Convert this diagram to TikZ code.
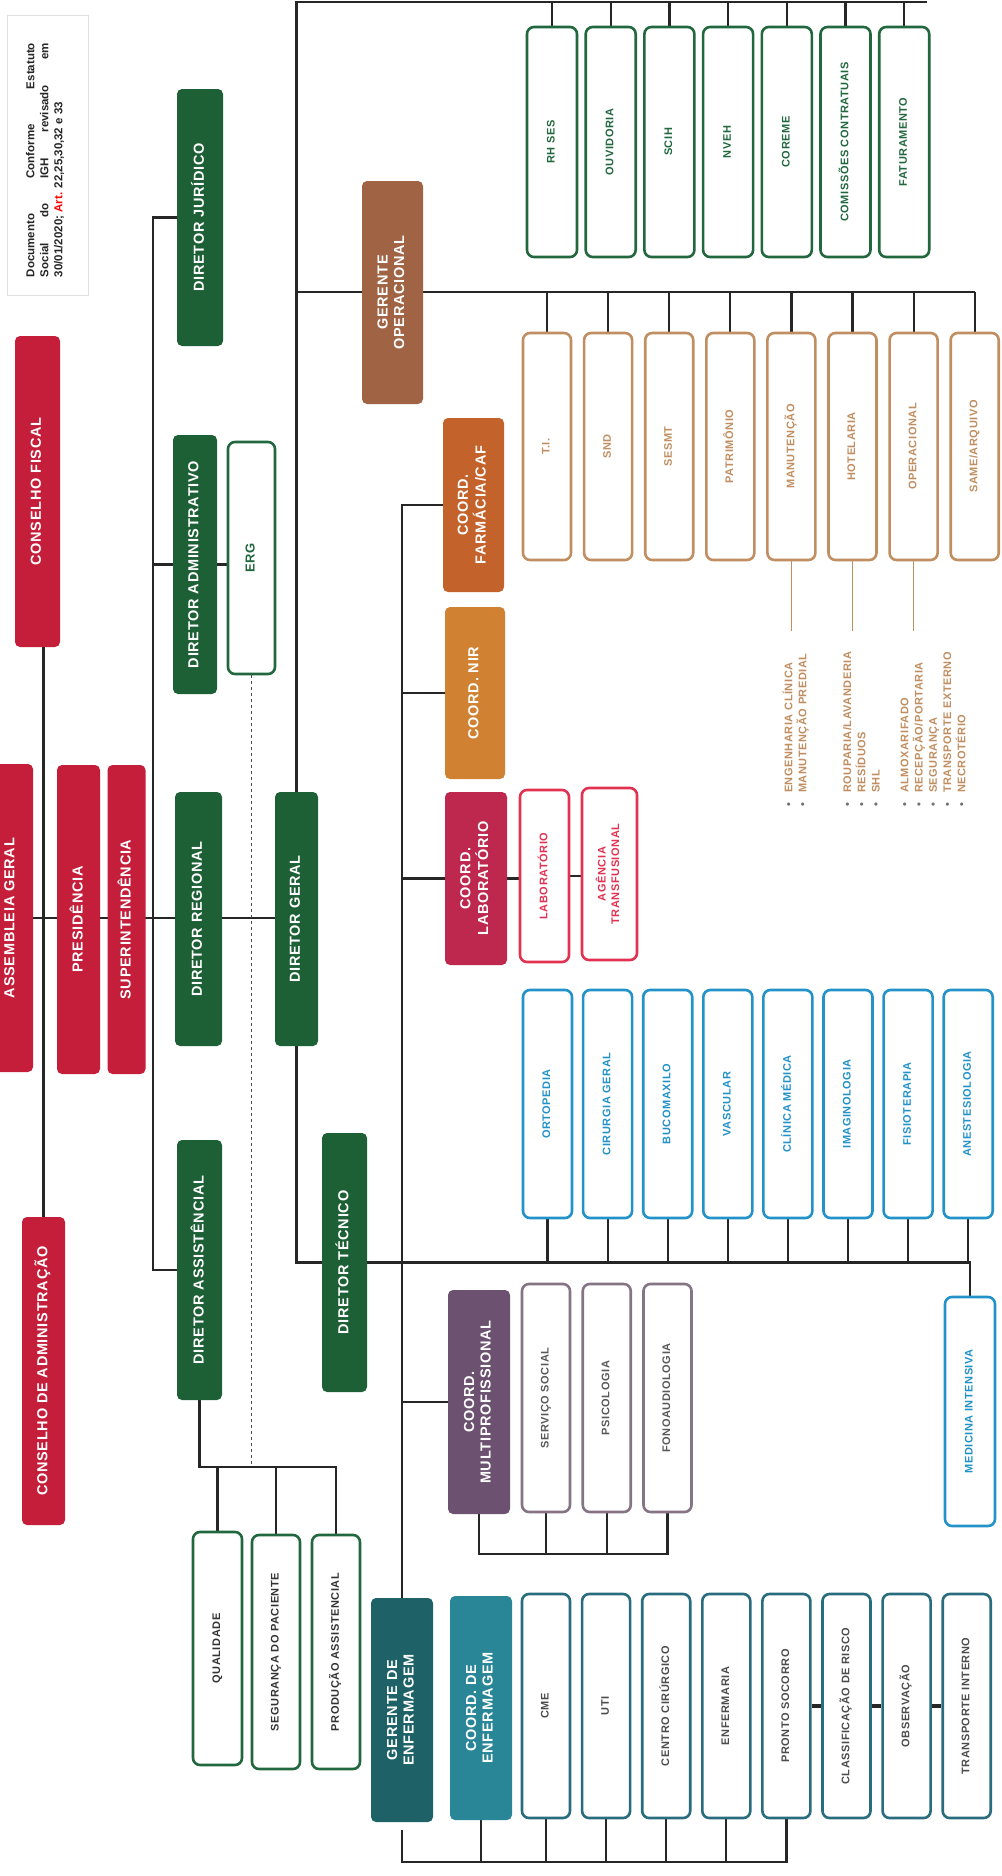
\documentclass[tikz,border=0pt]{standalone}
\usepackage{fontspec}
\setmainfont{Liberation Sans}
\newfontfamily\rotfont[LetterSpace=5]{Liberation Sans}
\usetikzlibrary{backgrounds}

\definecolor{redbox}{RGB}{196,30,58}
\definecolor{dirgreen}{RGB}{30,96,54}
\definecolor{outgreen}{RGB}{34,104,62}
\definecolor{opbrown}{RGB}{160,100,68}
\definecolor{farmorange}{RGB}{196,98,44}
\definecolor{nirorange}{RGB}{208,130,50}
\definecolor{labred}{RGB}{190,40,78}
\definecolor{labline}{RGB}{226,50,82}
\definecolor{tan}{RGB}{192,142,96}
\definecolor{blueline}{RGB}{34,146,200}
\definecolor{multipurple}{RGB}{108,82,112}
\definecolor{mauve}{RGB}{132,116,132}
\definecolor{enfdark}{RGB}{30,98,104}
\definecolor{enfteal}{RGB}{40,134,150}
\definecolor{tealline}{RGB}{40,108,126}

\newcommand\vt[1]{\rotatebox{90}{\begin{tabular}{@{}c@{}}#1\end{tabular}}}
\newcommand\vl[1]{\rotatebox{90}{\begin{tabular}{@{}l@{}}#1\end{tabular}}}
\newcommand\bul{{\color{black!55}\textbullet}\hspace{10pt}}

\tikzset{
  chefe/.style={fill=#1, rounded corners=5pt, inner sep=0pt, text=white,
    font=\rotfont\bfseries\fontsize{14.5}{16.5}\selectfont},
  setor/.style={draw=#1, text=#1, fill=white, line width=2.6pt, rounded corners=7pt,
    inner sep=0pt, font=\rotfont\bfseries\fontsize{11}{13.5}\selectfont},
  fio/.style={line width=2.2pt, black!85},
}

\begin{document}
\begin{tikzpicture}[x=1pt, y=-1pt]
\useasboundingbox (0,0) rectangle (1001,1876);
\begin{scope}[on background layer]
\fill[white] (0,0) rectangle (1001,1876);
\end{scope}
%
% nota
\draw[black!12, line width=0.6pt] (7,15) rectangle (88,295);
\node[inner sep=0pt, text=black!85, font=\bfseries\fontsize{11.5}{14}\selectfont] (nota) at (45,160)
  {\rotatebox{90}{\parbox{234pt}{Documento Conforme Estatuto\linebreak Social do IGH revisado em\linebreak 30/01/2020; {\color{red}Art.} 22,25,30,32 e 33}}};
%
% conselhos
\node[chefe=redbox, minimum width=45, minimum height=311] (cfis) at (37.5,491.5) {\vt{CONSELHO FISCAL}};
\node[chefe=redbox, minimum width=44, minimum height=308] (asm) at (11,918) {\vt{ASSEMBLEIA GERAL}};
\node[chefe=redbox, minimum width=43, minimum height=309] (pres) at (78.5,919.5) {\vt{PRESIDÊNCIA}};
\node[chefe=redbox, minimum width=38, minimum height=309] (sup) at (126.5,919.5) {\vt{SUPERINTENDÊNCIA}};
\node[chefe=redbox, minimum width=43, minimum height=308] (cadm) at (43.5,1371) {\vt{CONSELHO DE ADMINISTRAÇÃO}};
%
% diretores
\node[chefe=dirgreen, minimum width=46, minimum height=257] (jur) at (200,217.5) {\vt{DIRETOR JURÍDICO}};
\node[chefe=dirgreen, minimum width=44, minimum height=259] (adm) at (195,564.5) {\vt{DIRETOR ADMINISTRATIVO}};
\node[chefe=dirgreen, minimum width=47, minimum height=254] (reg) at (198.5,919) {\vt{DIRETOR REGIONAL}};
\node[chefe=dirgreen, minimum width=43, minimum height=254] (ger) at (296.5,919) {\vt{DIRETOR GERAL}};
\node[chefe=dirgreen, minimum width=45, minimum height=260] (ass) at (199.5,1270) {\vt{DIRETOR ASSISTÊNCIAL}};
\node[chefe=dirgreen, minimum width=45, minimum height=259] (tec) at (344.5,1262.5) {\vt{DIRETOR TÉCNICO}};
%
\node[setor=outgreen, minimum width=47, minimum height=232, font=\rotfont\bfseries\fontsize{13}{15}\selectfont] (erg) at (251.5,558) {\vt{ERG}};
\node[setor=outgreen, text=black!80, minimum width=49, minimum height=233] (qual) at (217.5,1648.5) {\vt{QUALIDADE}};
\node[setor=outgreen, text=black!80, minimum width=48, minimum height=234] (seg) at (276,1652) {\vt{SEGURANÇA DO PACIENTE}};
\node[setor=outgreen, text=black!80, minimum width=48, minimum height=234] (prod) at (336,1652) {\vt{PRODUÇÃO ASSISTENCIAL}};
%
% operacional
\node[chefe=opbrown, minimum width=61, minimum height=223] (gop) at (392.5,292.5) {\vt{GERENTE\\OPERACIONAL}};
\foreach \nome [count=\i] in {RH SES, OUVIDORIA, SCIH, NVEH, COREME, COMISSÕES CONTRATUAIS, FATURAMENTO}
  \node[setor=outgreen, minimum width=50, minimum height=230] (g\i) at ({552+58.7*(\i-1)},142) {\vt{\nome}};
\foreach \nome [count=\i] in {T.I., SND, SESMT, PATRIMÔNIO, MANUTENÇÃO, HOTELARIA, OPERACIONAL, SAME/ARQUIVO}
  \node[setor=tan, minimum width=48, minimum height=227] (b\i) at ({547+61.1*(\i-1)},446.5) {\vt{\nome}};
%
\node[inner sep=0pt, anchor=south, text=tan, font=\rotfont\bfseries\fontsize{11}{14.2}\selectfont] (manlist) at (796.5,807)
  {\vl{\bul ENGENHARIA CLÍNICA\\ \bul MANUTENÇÃO PREDIAL}};
\node[inner sep=0pt, anchor=south, text=tan, font=\rotfont\bfseries\fontsize{11}{14.2}\selectfont] (hotlist) at (862.5,807)
  {\vl{\bul ROUPARIA/LAVANDERIA\\ \bul RESÍDUOS\\ \bul SHL}};
\node[inner sep=0pt, anchor=south, text=tan, font=\rotfont\bfseries\fontsize{11}{14.2}\selectfont] (oplist) at (934,807)
  {\vl{\bul ALMOXARIFADO\\ \bul RECEPÇÃO/PORTARIA\\ \bul SEGURANÇA\\ \bul TRANSPORTE EXTERNO\\ \bul NECROTÉRIO}};
%
% coordenacoes
\node[chefe=farmorange, minimum width=61, minimum height=174] (farm) at (473.5,505) {\vt{COORD.\\FARMÁCIA/CAF}};
\node[chefe=nirorange, minimum width=60, minimum height=172] (nir) at (475,693) {\vt{COORD. NIR}};
\node[chefe=labred, minimum width=62, minimum height=173] (clab) at (476,878.5) {\vt{COORD.\\LABORATÓRIO}};
\node[setor=labline, minimum width=49, minimum height=172] (lab) at (544.5,876) {\vt{LABORATÓRIO}};
\node[setor=labline, minimum width=55, minimum height=172] (agt) at (609.5,874) {\vt{AGÊNCIA\\TRANSFUSIONAL}};
%
% especialidades
\foreach \nome [count=\i] in {ORTOPEDIA, CIRURGIA GERAL, BUCOMAXILO, VASCULAR, CLÍNICA MÉDICA, IMAGINOLOGIA, FISIOTERAPIA, ANESTESIOLOGIA}
  \node[setor=blueline, minimum width=49, minimum height=228] (m\i) at ({547.5+60.1*(\i-1)},1104) {\vt{\nome}};
\node[setor=blueline, minimum width=50, minimum height=229] (mi) at (970,1411.5) {\vt{MEDICINA INTENSIVA}};
%
\node[chefe=multipurple, minimum width=62, minimum height=224] (cmul) at (479,1402) {\vt{COORD.\\MULTIPROFISSIONAL}};
\foreach \nome [count=\i] in {SERVIÇO SOCIAL, PSICOLOGIA, FONOAUDIOLOGIA}
  \node[setor=mauve, text=black!65, minimum width=48, minimum height=228] (p\i) at ({546+60.75*(\i-1)},1398) {\vt{\nome}};
%
% enfermagem
\node[chefe=enfdark, minimum width=62, minimum height=224] (genf) at (402,1710) {\vt{GERENTE DE\\ENFERMAGEM}};
\node[chefe=enfteal, minimum width=62, minimum height=224] (cenf) at (481,1708) {\vt{COORD. DE\\ENFERMAGEM}};
\foreach \nome [count=\i] in {CME, UTI, CENTRO CIRÚRGICO, ENFERMARIA, PRONTO SOCORRO, CLASSIFICAÇÃO DE RISCO, OBSERVAÇÃO, TRANSPORTE INTERNO}
  \node[setor=tealline, text=black!70, minimum width=48, minimum height=224] (n\i) at ({546+60.1*(\i-1)},1706) {\vt{\nome}};
%
% ligacoes
\coordinate (topR) at (927,2);
\coordinate (opR) at (975,292);
\coordinate (qbar) at (0,1467);
\coordinate (mbar) at (0,1554);
\coordinate (nbar) at (0,1862);
\begin{scope}[on background layer]
\draw[fio] (cadm.north) -- (cadm.north |- cfis.south);
\draw[fio] (asm.east) -- (asm.east -| ger.west);
\draw[fio] (jur.west) -- ++(-24,0) |- (ass.west);
\draw[fio] (adm.west) -- ++(-20,0);
\draw[fio] (adm.east) -- (adm.east -| erg.west);
\draw[black!70, dashed, line width=0.8pt] (erg.south) -- (erg.south |- qbar);
\draw[fio] (ass.south) -- (ass.south |- qbar) -- (prod.north |- qbar) -- (prod.north);
\draw[fio] (qual.north) -- (qual.north |- qbar);
\draw[fio] (seg.north) -- (seg.north |- qbar);
%
\draw[fio] (ger.north) |- (topR);
\foreach \i in {1,...,7}
  \draw[fio] (g\i.north) -- (g\i.north |- topR);
\draw[fio] (ger.north |- opR) -- (opR);
\foreach \i in {1,...,8}
  \draw[fio] (b\i.north) -- (b\i.north |- opR);
\foreach \i in {5,6,7}
  \draw[tan, line width=1.4pt] (b\i.south) -- ++(0,70);
%
\draw[fio] (ger.south) |- (tec.west);
\draw[fio] (tec.east) -- (tec.east -| mi.north) -- (mi.north);
\foreach \i in {1,...,8}
  \draw[fio] (m\i.south) -- (m\i.south |- tec.east);
%
\draw[fio] (farm.west) -| (genf.north);
\draw[fio] (nir.west) -- (nir.west -| genf.north);
\draw[fio] (clab.west) -- (clab.west -| genf.north);
\draw[fio] (cmul.west) -- (cmul.west -| genf.north);
\draw[fio] (clab.east) -- (clab.east -| lab.west);
\draw[fio] (lab.east) -- (lab.east -| agt.west);
%
\draw[fio] (cmul.south) -- (cmul.south |- mbar) -- (p3.south |- mbar) -- (p3.south);
\foreach \i in {1,2}
  \draw[fio] (p\i.south) -- (p\i.south |- mbar);
%
\draw[fio] ([yshift=-8pt]genf.south) -- (genf.south |- nbar) -- (n5.south |- nbar) -- (n5.south);
\draw[fio] (cenf.south) -- (cenf.south |- nbar);
\foreach \i in {1,...,4}
  \draw[fio] (n\i.south) -- (n\i.south |- nbar);
\draw[line width=3.5pt, black!85] (n5.east) -- (n6.west);
\draw[line width=3.5pt, black!85] (n6.east) -- (n7.west);
\draw[line width=3.5pt, black!85] (n7.east) -- (n8.west);
\end{scope}
\end{tikzpicture}
\end{document}
